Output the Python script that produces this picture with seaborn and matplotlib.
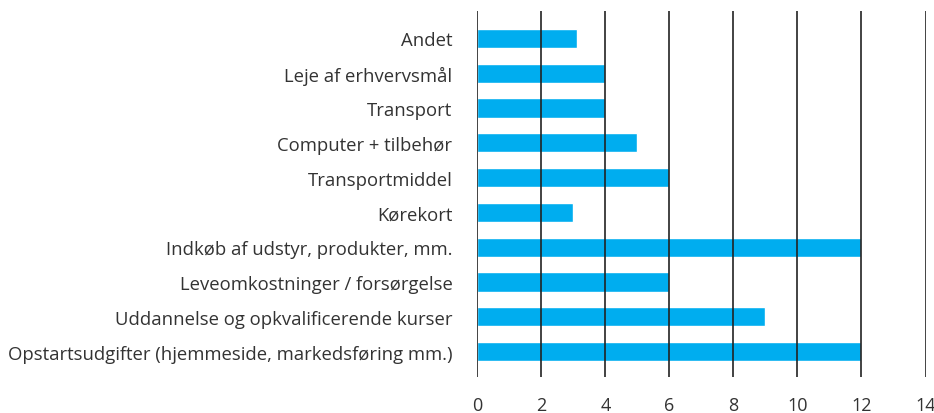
import pandas as pd
import matplotlib
matplotlib.use("Agg")
import matplotlib.pyplot as plt
import seaborn as sns

categories = [
    "Andet",
    "Leje af erhvervsmål",
    "Transport",
    "Computer + tilbehør",
    "Transportmiddel",
    "Kørekort",
    "Indkøb af udstyr, produkter, mm.",
    "Leveomkostninger / forsørgelse",
    "Uddannelse og opkvalificerende kurser",
    "Opstartsudgifter (hjemmeside, markedsføring mm.)",
]
values = [3.1, 4, 4, 5, 6, 3, 12, 6, 9, 12]
xticks = [0, 2, 4, 6, 8, 10, 12, 14]

df = pd.DataFrame({"kategori": categories, "antal": values})

sns.set_theme(style="white")
plt.rcParams["font.family"] = ["Open Sans", "DejaVu Sans"]

fig = plt.figure(figsize=(9.34, 4.14), dpi=100)
ax = fig.add_axes([0.5112, 0.087, 0.9909 - 0.5112, 0.971 - 0.087])

sns.barplot(data=df, x="antal", y="kategori", orient="h", color="#00adef",
            saturation=1, width=0.55, ax=ax)

ax.set_xlim(0, 14)
ax.set_ylim(9.73, -0.79)
ax.set_xticks(xticks)
ax.set_xticklabels([str(t) for t in xticks])
ax.set_xlabel("")
ax.set_ylabel("")

for s in ax.spines.values():
    s.set_visible(False)

ax.grid(axis="x", color="#222222", linewidth=1.2)
ax.grid(axis="y", visible=False)
ax.set_axisbelow(False)

ax.tick_params(axis="x", length=0, pad=14, labelsize=13, labelcolor="#333333")
ax.tick_params(axis="y", length=0, pad=18, labelsize=13.3, labelcolor="#333333")

fig.savefig("out.png", dpi=100)
